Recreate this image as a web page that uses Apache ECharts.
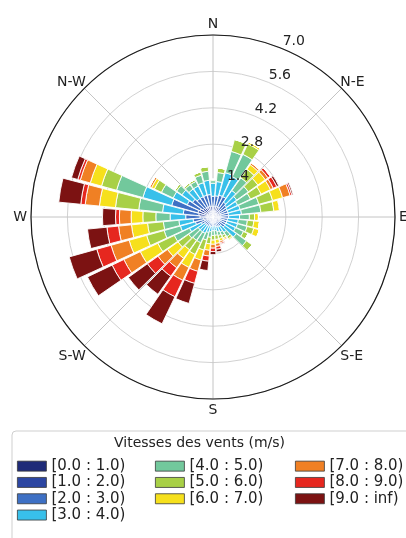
<!DOCTYPE html>
<html>
<head>
<meta charset="utf-8">
<title>Rose des vents</title>
<script src="https://cdn.jsdelivr.net/npm/echarts@6/dist/echarts.min.js"></script>
<style>
  html, body { margin: 0; padding: 0; background: #fff; }
  #chart { width: 406px; height: 538px; }
</style>
</head>
<body>
<div id="chart"></div>
<script>
// Direction sectors (degrees clockwise from north), 10° each
const directions = [0,10,20,30,40,50,60,70,80,90,100,110,120,130,140,150,160,170,
                    180,190,200,210,220,230,240,250,260,270,280,290,300,310,320,330,340,350];

// Speed classes
const speedBins = ['[0.0 : 1.0)', '[1.0 : 2.0)', '[2.0 : 3.0)', '[3.0 : 4.0)', '[4.0 : 5.0)',
                   '[5.0 : 6.0)', '[6.0 : 7.0)', '[7.0 : 8.0)', '[8.0 : 9.0)', '[9.0 : inf)'];
const binColors = ['#1e2a78', '#2c46a2', '#3e70c4', '#38c0ea', '#72c89c',
                   '#a8d046', '#f6e01c', '#f08024', '#e6271f', '#7c1212'];

// Frequency (%) of each speed class per direction, N -> clockwise
const s0 = [0.12,0.12,0.12,0.12,0.10,0.10,0.10,0.10,0.10,0.10,0.10,0.10,0.10,0.10,0.08,0.08,0.08,0.08,
            0.08,0.08,0.08,0.08,0.08,0.08,0.10,0.15,0.12,0.15,0.15,0.15,0.15,0.12,0.12,0.12,0.12,0.12];
const s1 = [0.28,0.28,0.30,0.30,0.25,0.22,0.20,0.20,0.20,0.20,0.18,0.18,0.18,0.18,0.15,0.14,0.13,0.12,
            0.12,0.12,0.12,0.12,0.12,0.12,0.15,0.20,0.25,0.35,0.40,0.45,0.40,0.35,0.30,0.30,0.30,0.30];
const s2 = [0.40,0.42,0.45,0.45,0.35,0.32,0.30,0.30,0.30,0.30,0.28,0.28,0.26,0.27,0.20,0.20,0.18,0.15,
            0.15,0.17,0.17,0.20,0.20,0.20,0.25,0.35,0.40,0.55,0.60,1.05,0.55,0.50,0.45,0.45,0.45,0.45];
const s3 = [0.50,0.55,0.90,0.85,0.55,0.48,0.45,0.48,0.50,0.42,0.42,0.42,0.42,0.55,0.30,0.22,0.20,0.18,
            0.18,0.20,0.25,0.30,0.30,0.30,0.50,0.60,0.55,0.60,0.80,1.15,0.60,0.50,0.45,0.45,0.50,0.55];
const s4 = [0.10,0.35,0.85,0.95,0.60,0.55,0.55,0.75,0.75,0.38,0.35,0.38,0.34,0.48,0.20,0.15,0.15,0.18,
            0.18,0.22,0.30,0.40,0.40,0.45,0.65,0.65,0.60,0.55,0.92,1.05,0.50,0.25,0.20,0.20,0.30,0.35];
const s5 = [0.05,0.18,0.48,0.45,0.40,0.45,0.45,0.55,0.50,0.20,0.25,0.27,0.20,0.27,0.10,0.10,0.12,0.16,
            0.18,0.25,0.40,0.50,0.45,0.50,0.70,0.70,0.61,0.50,0.90,0.60,0.30,0.08,0.08,0.08,0.13,0.18];
const s6 = [0,0,0,0.08,0.22,0.35,0.40,0.40,0.22,0.15,0.22,0.22,0,0,0.05,0.06,0.10,0.15,
            0.16,0.25,0.40,0.55,0.40,0.50,0.75,0.70,0.62,0.45,0.62,0.45,0.12,0,0,0,0,0];
const s7 = [0,0,0,0,0.08,0.13,0.12,0.30,0.03,0,0,0,0,0,0.02,0.05,0.07,0.12,
            0.15,0.22,0.45,0.55,0.45,0.45,0.70,0.72,0.50,0.45,0.55,0.40,0.08,0,0,0,0,0];
const s8 = [0,0,0,0,0,0.10,0.15,0.07,0,0,0,0,0,0,0,0,0.05,0.11,
            0.13,0.20,0.48,0.70,0.40,0.50,0.50,0.57,0.45,0.15,0.17,0.10,0,0,0,0,0,0];
const s9 = [0,0,0,0,0,0,0.08,0.05,0,0,0,0,0,0,0,0,0.02,0.10,
            0.12,0.36,0.80,1.15,0.85,0.90,1.05,1.10,0.75,0.50,0.85,0.25,0,0,0,0,0,0];
const speedSeries = [s0, s1, s2, s3, s4, s5, s6, s7, s8, s9];

// Radial scale
const rMax = 7.0;
const rStep = 1.4;

const cardinal = { 0: 'N', 90: 'E', 180: 'S', 270: 'W' };
const diagonal = { 45: 'N-E', 135: 'S-E', 225: 'S-W', 315: 'N-W' };

const FONT = 'DejaVu Sans';
const CX = 213, CY = 217, R = 182;

const chart = echarts.init(document.getElementById('chart'), null, { renderer: 'canvas' });

const legendCommon = {
  orient: 'vertical',
  icon: 'rect',
  itemWidth: 29,
  itemHeight: 10,
  itemGap: 0,
  selectedMode: false,
  itemStyle: { borderColor: '#3a3a3a', borderWidth: 0.8 },
  textStyle: { fontFamily: FONT, fontSize: 15, lineHeight: 16.3, color: '#222' }
};

const labelStyle = { fontFamily: FONT, fontSize: 14, color: '#222' };

chart.setOption({
  animation: false,
  backgroundColor: '#fff',
  textStyle: { fontFamily: FONT },
  title: {
    text: 'Vitesses des vents (m/s)',
    left: 109,
    top: 431,
    textStyle: { fontFamily: FONT, fontSize: 14, fontWeight: 'normal', color: '#222' }
  },
  graphic: [{
    type: 'rect',
    z: -1,
    shape: { x: 12, y: 431, width: 410, height: 130, r: 4 },
    style: { fill: '#fff', stroke: '#cfcfcf', lineWidth: 1 }
  }],
  legend: [
    Object.assign({ data: speedBins.slice(0, 4), left: 12, top: 453 }, legendCommon),
    Object.assign({ data: speedBins.slice(4, 7), left: 150, top: 453 }, legendCommon),
    Object.assign({ data: speedBins.slice(7), left: 290, top: 453 }, legendCommon)
  ],
  polar: [
    { center: [CX, CY], radius: R },
    { center: [CX, CY], radius: R },
    { center: [CX, CY], radius: R },
    { center: [CX, CY], radius: R }
  ],
  angleAxis: [
    {
      // compass grid: spokes, outer ring, cardinal labels
      polarIndex: 0,
      type: 'value',
      min: 0, max: 360, interval: 45,
      startAngle: 90, clockwise: true,
      axisLine: { show: true, lineStyle: { color: '#1a1a1a', width: 1.2 } },
      axisTick: { show: false },
      splitLine: { show: true, lineStyle: { color: '#c4c4c4', width: 1 } },
      axisLabel: Object.assign({
        show: true, margin: 4,
        formatter: v => (v >= 360 ? '' : (cardinal[v] || ''))
      }, labelStyle)
    },
    {
      // sectors for the bars, centred on each direction
      polarIndex: 1,
      type: 'category',
      data: directions,
      startAngle: 95, clockwise: true,
      show: false
    },
    {
      // carries the radial labels along 22.5°
      polarIndex: 2,
      type: 'value',
      min: 0, max: 360,
      startAngle: 67.5,
      show: false
    },
    {
      // intercardinal labels
      polarIndex: 3,
      type: 'value',
      min: 0, max: 360, interval: 45,
      startAngle: 90, clockwise: true,
      axisLine: { show: false }, axisTick: { show: false }, splitLine: { show: false },
      axisLabel: Object.assign({
        show: true, margin: -2,
        formatter: v => {
          const t = diagonal[v] || '';
          if (!t) return '';
          return (v === 135 || v === 225) ? '{lo|' + t + '}' : t;
        },
        rich: { lo: { fontFamily: FONT, fontSize: 14, color: '#222', padding: [5, 0, 0, 0] } }
      }, labelStyle)
    }
  ],
  radiusAxis: [
    {
      polarIndex: 0,
      type: 'value', min: 0, max: rMax, interval: rStep,
      axisLine: { show: false }, axisTick: { show: false }, axisLabel: { show: false },
      splitLine: { show: true, lineStyle: { color: '#d2d2d2', width: 1 } }
    },
    {
      polarIndex: 1,
      type: 'value', min: 0, max: rMax,
      show: false
    },
    {
      polarIndex: 2,
      type: 'value', min: 0, max: rMax, interval: rStep,
      axisLine: { show: false }, axisTick: { show: false }, splitLine: { show: false },
      axisLabel: Object.assign({
        show: true, margin: 0, align: 'left', verticalAlign: 'bottom',
        showMinLabel: false,
        formatter: v => v.toFixed(1)
      }, labelStyle),
      z: 10
    },
    {
      polarIndex: 3,
      type: 'value', min: 0, max: rMax,
      show: false
    }
  ],
  series: speedSeries.map((vals, i) => ({
    name: speedBins[i],
    type: 'bar',
    coordinateSystem: 'polar',
    polarIndex: 1,
    stack: 'wind',
    data: vals,
    barCategoryGap: '10%',
    itemStyle: { color: binColors[i], borderColor: '#ffffff', borderWidth: 0.9 },
    emphasis: { disabled: true }
  }))
});
</script>
</body>
</html>
